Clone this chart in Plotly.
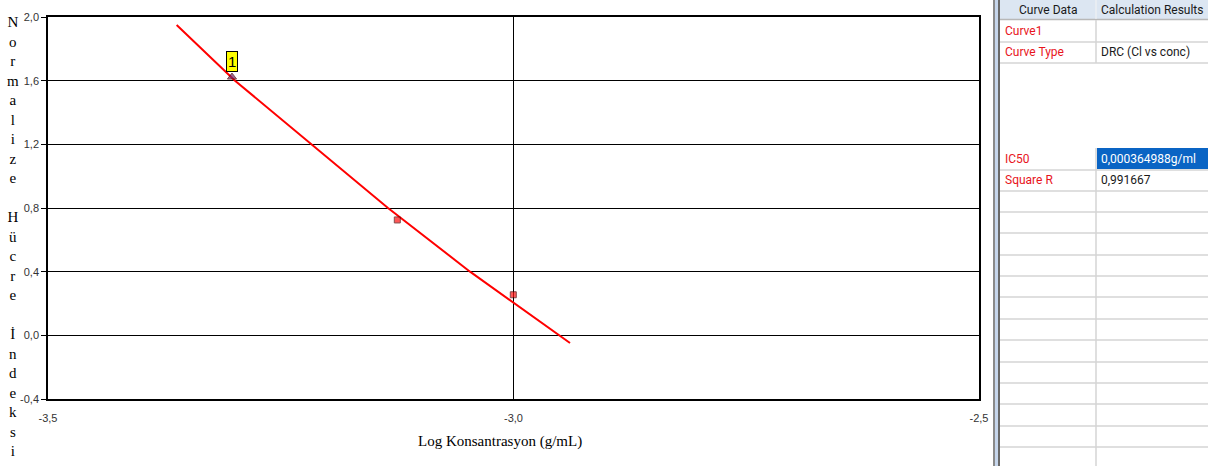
import plotly.graph_objects as go

# ---------------- data ----------------
# fitted curve (log concentration vs normalized cell index)
curve_x = [-3.3618, -3.2991, -3.1348, -3.0467, -2.9393]
curve_y = [1.950, 1.600, 0.800, 0.400, -0.048]

# measured points
point_x = [-3.3024, -3.1248, -3.0002]
point_y = [1.623, 0.725, 0.255]
point_labels = ["1", "", ""]

x_tick_vals = [-3.5, -3.0, -2.5]
x_tick_text = ["-3,5", "-3,0", "-2,5"]
y_tick_vals = [-0.4, 0.0, 0.4, 0.8, 1.2, 1.6, 2.0]
y_tick_text = ["-0,4", "0,0", "0,4", "0,8", "1,2", "1,6", "2,0"]

x_title = "Log Konsantrasyon (g/mL)"
y_title = "Normalize Hücre İndeksi"

table_header = ["Curve Data", "Calculation Results"]
table_labels = ["Curve1", "Curve Type", "IC50", "Square R"]
table_values = ["", "DRC (Cl vs conc)", "0,000364988g/ml", "0,991667"]

# ---------------- layout helpers ----------------
W, H = 1221, 466


def pxx(x):
    return x / W


def pxy(y):
    return 1 - y / H


serif = "Liberation Serif, Times New Roman, serif"
sans = "Liberation Sans, Arial, sans-serif"
narrow = "Liberation Sans Narrow, Liberation Sans, Arial"
uifont = "Roboto, Noto Sans, sans-serif"

fig = go.Figure()

fig.add_trace(go.Scatter(
    x=curve_x, y=curve_y, mode="lines",
    line=dict(color="#ff0000", width=2), hoverinfo="skip"))

fig.add_trace(go.Scatter(
    x=point_x, y=point_y, mode="markers",
    marker=dict(symbol=["triangle-up", "square", "square"],
                color=["#6a2a6e", "#ff1010", "#ff1010"],
                size=[8, 6, 6],
                line=dict(color="#500000", width=1))))

# point label "1"
for px_, py_, lab in zip(point_x, point_y, point_labels):
    if lab:
        fig.add_annotation(x=px_, y=py_, xref="x", yref="y", text=lab,
                           showarrow=False, xanchor="center", yanchor="bottom", yshift=5,
                           bgcolor="#ffff00", bordercolor="#000000",
                           borderwidth=1, borderpad=1,
                           font=dict(family=sans, size=15, color="#000000"))

# axes
left, right, top, bottom = 48, 979, 17, 399
fig.update_xaxes(domain=[pxx(left), pxx(right)], range=[-3.5, -2.5],
                 tickvals=x_tick_vals, ticktext=x_tick_text,
                 showgrid=True, gridcolor="#000000", gridwidth=1,
                 showline=True, linecolor="#000000", linewidth=1.5, mirror=True,
                 ticks="", ticklabelstandoff=8, zeroline=False,
                 tickfont=dict(family=narrow, size=11, color="#333333"),
                 automargin=False)
fig.update_yaxes(domain=[pxy(bottom), pxy(top)], range=[-0.4, 2.0],
                 tickvals=y_tick_vals, ticktext=y_tick_text,
                 showgrid=True, gridcolor="#000000", gridwidth=1,
                 showline=True, linecolor="#000000", linewidth=1.5, mirror=True,
                 ticks="outside", ticklen=5, tickcolor="#000000", zeroline=False,
                 tickfont=dict(family=narrow, size=11, color="#333333"),
                 automargin=False)

# x axis title
fig.add_annotation(x=pxx(500), y=pxy(441), xref="paper", yref="paper",
                   text=x_title, showarrow=False, xanchor="center", yanchor="middle",
                   font=dict(family=serif, size=15, color="#000000"))

# y axis title, stacked letters
stacked = "<br>".join(ch if ch != " " else "&nbsp;" for ch in y_title)
fig.add_annotation(x=pxx(13), y=pxy(236.5), xref="paper", yref="paper",
                   text=stacked, showarrow=False, xanchor="center", yanchor="middle",
                   align="center",
                   font=dict(family=serif, size=15, color="#000000"))

# ---------------- side table ----------------
shapes = []


def rect(x0, y0, x1, y1, fill):
    shapes.append(dict(type="rect", xref="paper", yref="paper",
                       x0=pxx(x0), x1=pxx(x1), y0=pxy(y1), y1=pxy(y0),
                       fillcolor=fill, line=dict(width=0), layer="above"))


def hline(y, x0, x1, color="#d4d4d4", width=1.5):
    shapes.append(dict(type="line", xref="paper", yref="paper",
                       x0=pxx(x0), x1=pxx(x1), y0=pxy(y), y1=pxy(y),
                       line=dict(color=color, width=width), layer="above"))


def vline(x, y0, y1, color="#d4d4d4", width=1.5):
    shapes.append(dict(type="line", xref="paper", yref="paper",
                       x0=pxx(x), x1=pxx(x), y0=pxy(y0), y1=pxy(y1),
                       line=dict(color=color, width=width), layer="above"))


# separator bar
rect(993, 0, 995, H, "#8a8a8a")
rect(995, 0, 998, H, "#c6d6ec")
rect(998, 0, 1000, H, "#6a6a6a")

tl, tm, tr = 1000, 1096, 1208
# header
rect(tl, 0, tr, 19, "#dce6f2")
hline(19.5, tl, tr, color="#b8b8b8", width=1.5)
vline(tm, 0, 19, color="#f4f4f4", width=1)
fig.add_annotation(x=pxx((tl + tm) / 2), y=pxy(10), xref="paper", yref="paper",
                   text=table_header[0], showarrow=False,
                   xanchor="center", yanchor="middle",
                   font=dict(family=uifont, size=12, color="#1a1a1a"))
fig.add_annotation(x=pxx((tm + tr) / 2), y=pxy(10), xref="paper", yref="paper",
                   text=table_header[1], showarrow=False,
                   xanchor="center", yanchor="middle",
                   font=dict(family=uifont, size=12, color="#1a1a1a"))

# selected cell
rect(tm + 1, 148, tr, 169, "#0a64c4")

# row lines
for y in [42, 63]:
    hline(y, tl, tr)
vline(tm, 20, 63)
row_lines = [170, 191, 212, 233, 255, 276, 297, 319, 340, 362, 383, 404, 426, 447]
for y in row_lines:
    hline(y, tl, tr)
vline(tm, 148, H)

row_centers = [31, 52, 158.5, 180]
for yc, lab, val in zip(row_centers, table_labels, table_values):
    fig.add_annotation(x=pxx(1003), y=pxy(yc), xref="paper", yref="paper",
                       text=lab, showarrow=False, xanchor="left", yanchor="middle",
                       font=dict(family=uifont, size=12, color="#e8141c"))
    if val:
        col = "#ffffff" if lab == "IC50" else "#1a1a1a"
        fig.add_annotation(x=pxx(1099), y=pxy(yc), xref="paper", yref="paper",
                           text=val, showarrow=False, xanchor="left", yanchor="middle",
                           font=dict(family=uifont, size=12, color=col))

fig.update_layout(width=W, height=H, margin=dict(l=0, r=0, t=0, b=0),
                  paper_bgcolor="#ffffff", plot_bgcolor="#ffffff",
                  showlegend=False, separators=",.", shapes=shapes)

fig.write_html("out.html", config={"displayModeBar": False},
               post_script="document.body.style.margin='0px';document.body.style.overflow='hidden';")
